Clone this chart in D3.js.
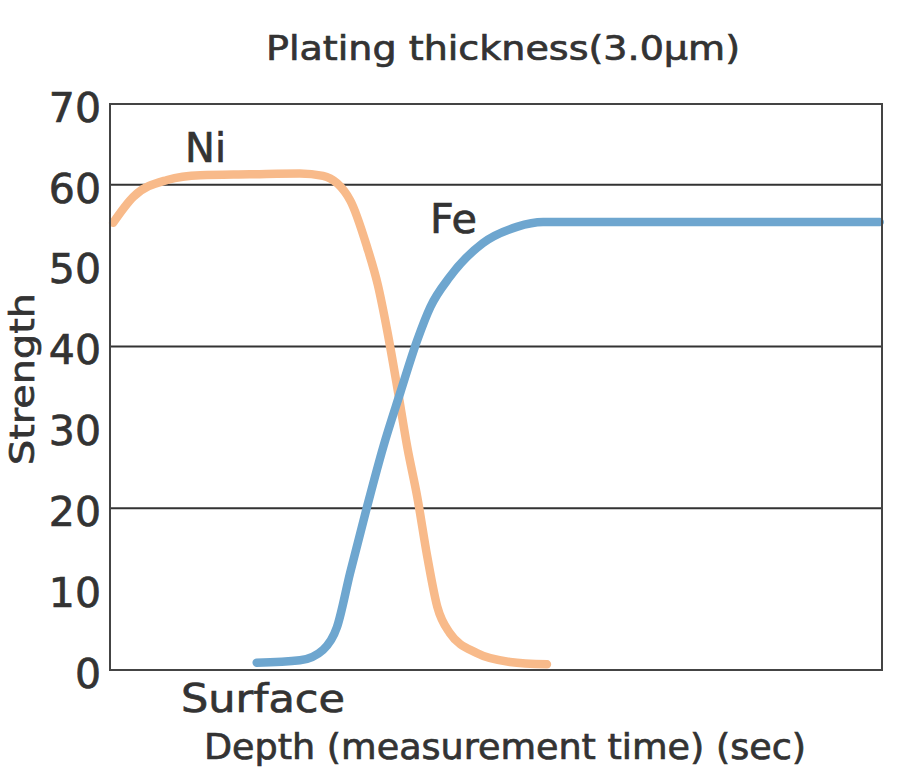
<!DOCTYPE html>
<html><head><meta charset="utf-8">
<script src="https://cdn.jsdelivr.net/npm/d3@7"></script>
<style>body{margin:0;background:#fff}svg{display:block}text{font-family:"DejaVu Sans",sans-serif;fill:#333;stroke:#333;stroke-width:0.7px}</style>
</head><body>
<script>
const yTicks = [0, 10, 20, 30, 40, 50, 60, 70];
const gridValues = [20, 40, 60];
const niX = [0.4, 3.0, 7.4, 11.7, 18.1, 24.6, 27.6, 31.1, 33.3, 34.7, 35.9, 37.2, 38.5, 39.8, 41.1, 42.4, 44.0, 47.5, 51.8, 56.6];
const niY = [55.3, 58.5, 60.6, 61.2, 61.3, 61.4, 61.1, 58.1, 52.3, 47.6, 42.0, 35.0, 27.6, 21.4, 14.0, 7.8, 4.6, 2.1, 1.0, 0.7];
const feX = [19.0, 24.6, 27.6, 29.4, 31.1, 33.3, 35.4, 37.6, 39.8, 41.5, 44.0, 48.3, 52.7, 56.1, 63.5, 99.7];
const feY = [0.9, 1.2, 2.5, 5.3, 12.0, 20.2, 27.6, 34.3, 40.8, 44.9, 48.6, 52.8, 54.8, 55.4, 55.4, 55.4];
const seriesNames = ["Ni", "Fe"];

const W = 900, H = 767;
const m = {left: 110, right: 18, top: 104, bottom: 97};
const svg = d3.select("body").append("svg").attr("width", W).attr("height", H);
const x = d3.scaleLinear().domain([0, 100]).range([m.left, W - m.right]);
const y = d3.scaleLinear().domain([0, 70]).range([H - m.bottom, m.top]);

// grid
svg.append("g").selectAll("line").data(gridValues).join("line")
  .attr("x1", x(0)).attr("x2", x(100)).attr("y1", d => y(d)).attr("y2", d => y(d))
  .attr("stroke", "#333").attr("stroke-width", 2);

// y axis labels
const ya = svg.append("g").attr("transform", `translate(${m.left - 9},0)`)
  .call(d3.axisLeft(y).tickValues(yTicks).tickSize(0).tickPadding(0));
ya.select(".domain").remove();
ya.selectAll("text").style("font-size", "41px").attr("fill", "#333").attr("dy", "0.42em");

const line = d3.line().x(d => x(d[0])).y(d => y(d[1])).curve(d3.curveMonotoneX);
const ni = niX.map((v, i) => [v, niY[i]]);
const fe = feX.map((v, i) => [v, feY[i]]);
svg.append("path").attr("d", line(ni)).attr("fill", "none").attr("stroke", "#F8BA8A")
  .attr("stroke-width", 8.5).attr("stroke-linecap", "round").attr("stroke-linejoin", "round");
svg.append("path").attr("d", line(fe)).attr("fill", "none").attr("stroke", "#6EA6CF")
  .attr("stroke-width", 8.5).attr("stroke-linecap", "round").attr("stroke-linejoin", "round");

// frame
svg.append("rect").attr("x", x(0)).attr("y", y(70)).attr("width", x(100) - x(0)).attr("height", y(0) - y(70))
  .attr("fill", "none").attr("stroke", "#444").attr("stroke-width", 2);

// labels
function label(tx, ty, size, len, str) {
  return svg.append("text").attr("x", tx).attr("y", ty).style("font-size", size + "px")
    .attr("textLength", len).attr("lengthAdjust", "spacingAndGlyphs").text(str);
}
label(185, 162, 41, 41, seriesNames[0]);
label(430, 233, 41, 47, seriesNames[1]);
label(266, 60, 34, 474, "Plating thickness(3.0μm)");
label(181, 712, 39, 164, "Surface");
label(204, 759, 36, 602, "Depth (measurement time) (sec)");
svg.append("text").attr("transform", "translate(34,465) rotate(-90)").style("font-size", "34px")
  .attr("textLength", 172).attr("lengthAdjust", "spacingAndGlyphs").text("Strength");
</script>
</body></html>
